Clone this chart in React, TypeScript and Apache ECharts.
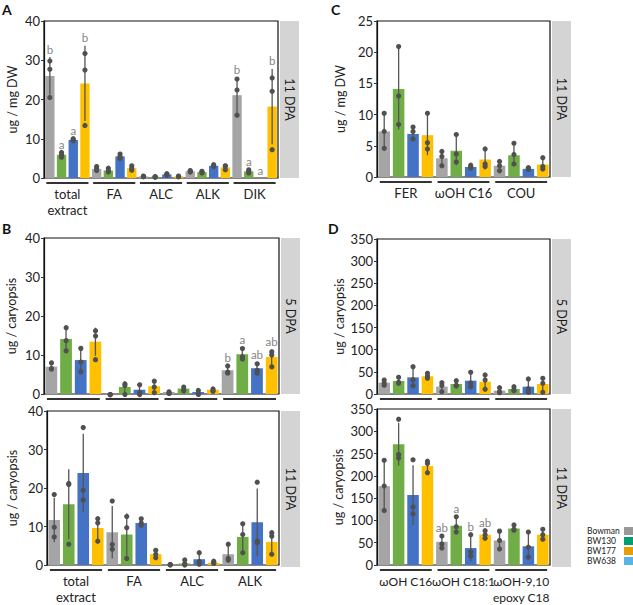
import React, { useEffect, useRef } from 'react';
import * as echarts from 'echarts';

const FONT = 'Lato, "Open Sans", "Noto Sans", sans-serif';

const genotypes = ['Bowman', 'BW130', 'BW177', 'BW638'];
const barColors = ['#a5a5a5', '#70ad47', '#4472c4', '#ffc000'];
const legendColors = ['#999999', '#009E73', '#E69F00', '#56B4E9'];

// ---------- Panel A: ug / mg DW, 11 DPA ----------
const catsA = ['total\nextract', 'FA', 'ALC', 'ALK', 'DIK'];
const meanA = [
  [26.0, 2.3, 0.4, 1.7, 21.1],
  [5.9, 1.9, 0.3, 1.5, 1.7],
  [9.7, 5.5, 0.9, 3.1, 0],
  [24.1, 2.5, 0.4, 2.7, 18.2],
];
const sdA = [
  [4.8, 0.4, 0.15, 0.2, 4.6],
  [0.6, 0.5, 0.1, 0.2, 0.4],
  [0.3, 0.5, 0.2, 0.3, 0],
  [9.6, 0.5, 0.1, 0.6, 9.6],
];
const ptsA = [
  [[29.8, 27.7, 20.5], [2.9, 2.4, 1.9], [0.5, 0.4, 0.3], [1.9, 1.7, 1.5], [25.2, 22.4, 16.0]],
  [[6.5, 5.9, 5.3], [2.5, 1.9, 1.5], [0.3, 0.3, 0.2], [1.7, 1.5, 1.3], [2.1, 1.7, 1.3]],
  [[10.0, 9.8, 9.5], [6.1, 5.5, 5.0], [1.1, 0.9, 0.7], [3.4, 3.1, 2.9], []],
  [[31.7, 27.5, 13.4], [3.1, 2.5, 2.0], [0.5, 0.4, 0.3], [3.1, 3.0, 2.1], [25.5, 22.1, 7.2]],
];
const lettersA = [
  ['b', '', '', '', 'b'],
  ['a', '', '', '', 'a'],
  ['a', '', '', '', 'a'],
  ['b', '', '', '', 'b'],
];

// ---------- Panel C: ug / mg DW, 11 DPA ----------
const catsC = ['FER', 'ωOH C16', 'COU'];
const meanC = [
  [7.3, 3.0, 1.8],
  [14.1, 4.2, 3.5],
  [6.9, 1.6, 1.3],
  [6.7, 2.8, 2.0],
];
const sdC = [
  [2.8, 1.2, 0.75],
  [6.5, 2.3, 1.6],
  [0.9, 0.3, 0.15],
  [3.2, 1.6, 1.0],
];
const ptsC = [
  [[10.2, 7.3, 4.6], [4.1, 3.3, 1.8], [2.5, 1.8, 1.0]],
  [[20.9, 13.0, 8.4], [6.8, 3.7, 2.4], [5.4, 3.6, 2.1]],
  [[8.0, 7.3, 6.1], [1.9, 1.6, 1.4], [1.5, 1.4, 1.2]],
  [[10.2, 5.5, 4.5], [4.5, 2.1, 1.7], [3.1, 1.7, 1.3]],
];

// ---------- Panel B: ug / caryopsis ----------
const catsB = ['total\nextract', 'FA', 'ALC', 'ALK'];
const meanB5 = [
  [7.0, 0.05, 0.5, 6.1],
  [14.1, 1.8, 1.4, 10.2],
  [8.7, 1.1, 0.5, 6.6],
  [13.4, 2.0, 1.1, 9.5],
];
const sdB5 = [
  [0.9, 0, 0.2, 1.0],
  [3.0, 1.5, 0.4, 1.3],
  [3.0, 1.3, 0.4, 1.1],
  [3.6, 1.4, 0.3, 2.0],
];
const ptsB5 = [
  [[8.2, 6.7, 6.6], [0.1, 0.05, 0], [0.8, 0.5, 0.4], [7.4, 5.8, 5.6]],
  [[17.2, 13.9, 11.3], [2.8, 2.4, 0.1], [2.0, 1.3, 1.0], [11.9, 9.8, 9.2]],
  [[11.9, 8.4, 5.9], [2.6, 0.6, 0.1], [1.1, 0.3, 0.1], [8.0, 6.3, 5.6]],
  [[16.4, 15.1, 9.0], [3.5, 2.0, 0.6], [1.5, 1.0, 0.9], [11.0, 10.2, 7.2]],
];
const lettersB5 = [
  ['', '', '', 'b'],
  ['', '', '', 'a'],
  ['', '', '', 'ab'],
  ['', '', '', 'ab'],
];
const meanB11 = [
  [11.7, 8.5, 0.1, 2.8],
  [15.8, 7.9, 0.4, 7.3],
  [23.9, 10.9, 1.5, 11.1],
  [9.6, 2.8, 0.6, 6.0],
];
const sdB11 = [
  [5.8, 6.8, 0, 2.2],
  [9.1, 5.5, 0.6, 3.8],
  [10.2, 0.9, 1.5, 8.8],
  [3.1, 1.0, 0.3, 3.0],
];
const ptsB11 = [
  [[18.3, 9.8, 7.3], [16.6, 5.3, 4.1], [0.1, 0.1, 0], [5.4, 1.7, 1.3]],
  [[21.2, 20.9, 5.4], [12.6, 9.7, 1.7], [1.3, 0.3, 0], [10.7, 7.9, 3.2]],
  [[35.7, 19.4, 16.9], [12.0, 10.9, 10.3], [3.2, 0.9, 0.2], [21.5, 6.2, 5.8]],
  [[12.0, 10.9, 6.2], [3.8, 2.8, 1.9], [1.0, 0.6, 0.4], [8.4, 7.5, 2.8]],
];

// ---------- Panel D: ug / caryopsis ----------
const catsD = ['ωOH C16', 'ωOH C18:1', 'ωOH-9,10\nepoxy C18'];
const meanD5 = [
  [25.6, 16.6, 7.5],
  [29.3, 22.6, 11.3],
  [37.6, 30.1, 16.6],
  [40.0, 27.8, 22.6],
];
const sdD5 = [
  [6, 10, 5.5],
  [7, 6, 4.5],
  [21, 16, 15],
  [5, 16, 16],
];
const ptsD5 = [
  [[31.6, 25, 20], [25.6, 19, 5.3], [14.3, 5, 3]],
  [[37.6, 26.5, 24], [30.1, 19.5, 18], [16.6, 9.8, 7.5]],
  [[61.7, 32, 18.8], [48.9, 25, 16.6], [33.9, 12, 3.8]],
  [[46.6, 40.6, 35.4], [42.9, 31.6, 10.5], [35.4, 24, 3.8]],
];
const meanD11 = [
  [177, 52, 55],
  [271, 88, 82],
  [157, 38, 42],
  [222, 68, 68],
];
const sdD11 = [
  [57, 14, 20],
  [48, 17, 6],
  [67, 30, 30],
  [13, 8, 12],
];
const ptsD11 = [
  [[235, 177, 122], [65, 47, 38], [76, 55, 36]],
  [[327, 248, 240], [108, 86, 74], [90, 80, 78]],
  [[236, 130, 115], [68, 30, 20], [74, 40, 18]],
  [[233, 228, 207], [77, 68, 60], [80, 68, 58]],
];
const lettersD11 = [
  ['', 'ab', ''],
  ['', 'a', ''],
  ['', 'b', ''],
  ['', 'ab', ''],
];

const yTicksA = [0, 40, 10];
const yTicksC = [0, 25, 5];
const yTicksB = [0, 40, 10];
const yTicksD = [0, 350, 50];

type Panel = {
  grid: { left: number; top: number; width: number; height: number };
  cats: string[];
  mean: number[][];
  sd: number[][];
  pts: number[][][];
  letters?: string[][];
  ticks: number[];
  yName: string;
  nameGap: number;
  strip: string;
  showX: boolean;
  xFont: number;
};

const panels: Panel[] = [
  { grid: { left: 44, top: 21, width: 234, height: 157 }, cats: catsA, mean: meanA, sd: sdA, pts: ptsA, letters: lettersA, ticks: yTicksA, yName: 'ug / mg DW', nameGap: 25, strip: '11 DPA', showX: true, xFont: 13 },
  { grid: { left: 377, top: 21, width: 173, height: 156 }, cats: catsC, mean: meanC, sd: sdC, pts: ptsC, ticks: yTicksC, yName: 'ug / mg DW', nameGap: 30, strip: '11 DPA', showX: true, xFont: 13 },
  { grid: { left: 44, top: 238, width: 235, height: 156 }, cats: catsB, mean: meanB5, sd: sdB5, pts: ptsB5, letters: lettersB5, ticks: yTicksB, yName: 'ug / caryopsis', nameGap: 26, strip: '5 DPA', showX: false, xFont: 13 },
  { grid: { left: 47, top: 411, width: 232, height: 156 }, cats: catsB, mean: meanB11, sd: sdB11, pts: ptsB11, ticks: yTicksB, yName: 'ug / caryopsis', nameGap: 28, strip: '11 DPA', showX: true, xFont: 13 },
  { grid: { left: 377, top: 239, width: 173, height: 155 }, cats: catsD, mean: meanD5, sd: sdD5, pts: ptsD5, ticks: yTicksD, yName: 'ug / caryopsis', nameGap: 31, strip: '5 DPA', showX: false, xFont: 12 },
  { grid: { left: 377, top: 409, width: 173, height: 158 }, cats: catsD, mean: meanD11, sd: sdD11, pts: ptsD11, letters: lettersD11, ticks: yTicksD, yName: 'ug / caryopsis', nameGap: 32, strip: '11 DPA', showX: true, xFont: 12 },
];

const panelLetters = [
  { t: 'A', x: 2, y: 2 },
  { t: 'C', x: 331, y: 2 },
  { t: 'B', x: 2, y: 221 },
  { t: 'D', x: 328, y: 221 },
];

const OFF = 0.25; // bar slot as fraction of category band
const LETTER_GRAY = '#858585';

function buildOption() {
  const grids: any[] = [];
  const xAxes: any[] = [];
  const yAxes: any[] = [];
  const series: any[] = [];
  const graphics: any[] = [];

  panels.forEach((p, pi) => {
    grids.push({ ...p.grid, show: true, borderColor: '#111', borderWidth: 1.2, backgroundColor: '#fff' });
    xAxes.push({
      type: 'category', gridIndex: pi, data: p.cats,
      axisLine: { show: false }, axisTick: { show: false },
      axisLabel: { show: p.showX, color: '#222', fontSize: p.xFont, fontFamily: FONT, lineHeight: 16, margin: 8, interval: 0 },
    });
    yAxes.push({
      type: 'value', gridIndex: pi, min: p.ticks[0], max: p.ticks[1], interval: p.ticks[2],
      name: p.yName, nameLocation: 'middle', nameRotate: 90, nameGap: p.nameGap,
      nameTextStyle: { color: '#222', fontSize: 12.5, fontFamily: FONT },
      axisLine: { show: true, lineStyle: { color: '#111', width: 1.2 } },
      axisTick: { show: true, length: 3, lineStyle: { color: '#333' } },
      axisLabel: { color: '#222', fontSize: 13, fontFamily: FONT, margin: 4 },
      splitLine: { show: false },
    });

    genotypes.forEach((g, gi) => {
      series.push({
        type: 'bar', name: g, xAxisIndex: pi, yAxisIndex: pi,
        data: p.mean[gi], barGap: '25%', barCategoryGap: '5%',
        itemStyle: { color: barColors[gi] }, silent: true,
      });
    });

    const errData: number[][] = [];
    const ptData: number[][] = [];
    const letData: any[] = [];
    const letText: string[] = [];
    p.cats.forEach((_, ci) => {
      genotypes.forEach((__, gi) => {
        const m = p.mean[gi][ci];
        const s = p.sd[gi][ci];
        if (s > 0) errData.push([ci, gi, Math.max(0, m - s), m + s]);
        p.pts[gi][ci].forEach((v) => ptData.push([ci, gi, v]));
        const L = p.letters ? p.letters[gi][ci] : '';
        if (L) {
          const top = Math.max(m + s, ...(p.pts[gi][ci].length ? p.pts[gi][ci] : [0]));
          letData.push([ci, gi, top]);
          letText.push(L);
        }
      });
    });

    series.push({
      type: 'custom', xAxisIndex: pi, yAxisIndex: pi, data: errData, encode: { x: 0, y: 2 }, z: 5, silent: true,
      itemStyle: { color: '#555' },
      renderItem: (params: any, api: any) => {
        const bw = api.size([1, 0])[0];
        const a = api.coord([api.value(0), api.value(2)]);
        const b = api.coord([api.value(0), api.value(3)]);
        const x = a[0] + (api.value(1) - 1.5) * OFF * bw;
        return { type: 'line', shape: { x1: x, y1: a[1], x2: x, y2: b[1] }, style: { stroke: '#555', lineWidth: 1.3 } };
      },
    });
    series.push({
      type: 'custom', xAxisIndex: pi, yAxisIndex: pi, data: ptData, encode: { x: 0, y: 2 }, z: 6, silent: true,
      itemStyle: { color: '#505050' },
      renderItem: (params: any, api: any) => {
        const bw = api.size([1, 0])[0];
        const a = api.coord([api.value(0), api.value(2)]);
        const x = a[0] + (api.value(1) - 1.5) * OFF * bw;
        return { type: 'circle', shape: { cx: x, cy: a[1], r: 2.6 }, style: { fill: '#505050' } };
      },
    });
    if (letData.length) {
      series.push({
        type: 'custom', xAxisIndex: pi, yAxisIndex: pi, data: letData, encode: { x: 0, y: 2 }, z: 7, silent: true,
        itemStyle: { color: LETTER_GRAY },
        renderItem: (params: any, api: any) => {
          const bw = api.size([1, 0])[0];
          const a = api.coord([api.value(0), api.value(2)]);
          const x = a[0] + (api.value(1) - 1.5) * OFF * bw;
          return {
            type: 'text', x, y: a[1] - 2,
            style: { text: letText[params.dataIndex], fill: LETTER_GRAY, fontSize: 11.5, fontFamily: FONT, align: 'center', verticalAlign: 'bottom' },
          };
        },
      });
    }
    series.push({
      type: 'custom', xAxisIndex: pi, yAxisIndex: pi, data: p.cats.map((_, ci) => [ci, 0]), encode: { x: 0, y: 1 }, z: 4, silent: true, clip: false,
      itemStyle: { color: '#333' },
      renderItem: (params: any, api: any) => {
        const bw = api.size([1, 0])[0];
        const a = api.coord([api.value(0), 0]);
        return { type: 'line', shape: { x1: a[0] - 0.45 * bw, y1: a[1] + 5, x2: a[0] + 0.45 * bw, y2: a[1] + 5 }, style: { stroke: '#333', lineWidth: 2 } };
      },
    });

    const sx = p.grid.left + p.grid.width + 2;
    graphics.push({ type: 'rect', shape: { x: sx, y: p.grid.top, width: 19, height: p.grid.height }, style: { fill: '#d4d4d4' }, silent: true });
    graphics.push({
      type: 'text', x: sx + 9.5, y: p.grid.top + p.grid.height / 2, rotation: -Math.PI / 2,
      style: { text: p.strip, fill: '#1a1a1a', fontSize: 12.5, fontFamily: FONT, align: 'center', verticalAlign: 'middle' }, silent: true,
    });
  });

  panelLetters.forEach((l) => {
    graphics.push({ type: 'text', x: l.x, y: l.y, style: { text: l.t, fill: '#111', fontSize: 14, fontWeight: 'bold', fontFamily: FONT }, silent: true });
  });

  genotypes.forEach((g, gi) => {
    const y = 531 + gi * 10;
    graphics.push({ type: 'text', x: 587, y, style: { text: g, fill: '#222', fontSize: 8.5, lineHeight: 9, fontFamily: FONT, verticalAlign: 'middle' }, silent: true });
    graphics.push({ type: 'rect', shape: { x: 624, y: y - 4, width: 9, height: 8 }, style: { fill: legendColors[gi] }, silent: true });
  });

  return {
    animation: false,
    backgroundColor: '#ffffff',
    textStyle: { fontFamily: FONT },
    grid: grids,
    xAxis: xAxes,
    yAxis: yAxes,
    series,
    graphic: graphics,
  };
}

export default function App() {
  const ref = useRef<HTMLDivElement>(null);
  useEffect(() => {
    if (!ref.current) return;
    const chart = echarts.init(ref.current, undefined, { renderer: 'svg' });
    chart.setOption(buildOption() as any);
    return () => chart.dispose();
  }, []);
  return <div ref={ref} style={{ position: 'fixed', left: 0, top: 0, width: 633, height: 605 }} />;
}
